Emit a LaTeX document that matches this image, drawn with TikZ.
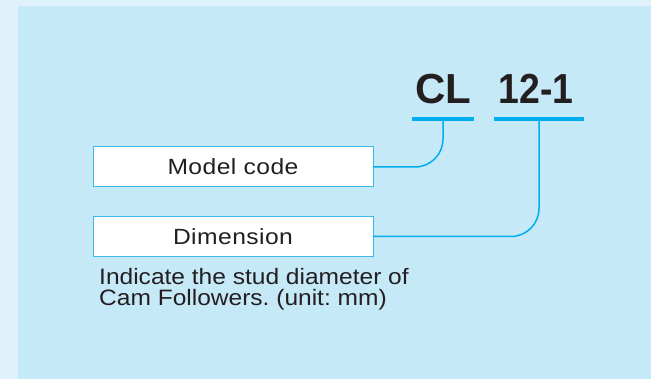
\documentclass[tikz,border=0pt]{standalone}
\usepackage{fontspec}
\setmainfont{Liberation Sans}
\newfontfamily\boxfont[FakeStretch=1.12,LetterSpace=2]{Liberation Sans}
\newfontfamily\notefont[FakeStretch=1.1]{Liberation Sans}
\newfontfamily\numfont[FakeStretch=0.89]{Liberation Sans}
\usetikzlibrary{calc}
\definecolor{outerbg}{HTML}{DFF2FB}
\definecolor{innerbg}{HTML}{C6E9F8}
\definecolor{cyanline}{HTML}{00AEEF}
\definecolor{boxline}{HTML}{3CB8EC}
\definecolor{textdark}{HTML}{231F20}

\begin{document}
\frenchspacing
\begin{tikzpicture}[x=1pt,y=-1pt]
        \tikzset{
            style box/.style={draw=boxline,line width=1pt,fill=white,minimum width=280pt,minimum height=40pt,inner sep=0pt,text=textdark,font=\boxfont\fontsize{22}{22}\selectfont},
            style code/.style={inner sep=0pt,anchor=base,text=textdark,font=\bfseries\fontsize{42}{42}\selectfont},
            style bar/.style={draw=cyanline,line width=4pt},
            style link/.style={draw=cyanline,line width=1.5pt,rounded corners=28pt},
            style note/.style={inner sep=0pt,anchor=north west,align=left,text=textdark,font=\notefont\fontsize{22.3}{21}\selectfont}
        };
        % background panels
        \fill[outerbg] (0,0) rectangle (651,379);
        \fill[innerbg] (18,6) rectangle (651,379);
        \useasboundingbox (0,0) rectangle (651,379);

        % model number
        \node[style code] (cl) at (443,104) {CL};
        \node[style code,font=\numfont\bfseries\fontsize{42}{42}\selectfont] (num) at (536,104) {12-1};
        \draw[style bar] (412,119) -- (474,119) coordinate[midway] (cl-bar);
        \draw[style bar] (494,119) -- (584,119) coordinate[pos=0.5] (num-bar);

        % explanation boxes
        \node[style box] (model) at (233,167) {Model code};
        \node[style box] (dim) at (233,236.5) {Dimension};
        \node[style note] (note) at (99,268) {Indicate the stud diameter of\\Cam Followers. (unit: mm)};

        \draw[style link] (model.east) -| (cl-bar);
        \draw[style link] (dim.east) -| (num-bar);
    \end{tikzpicture}
\end{document}
